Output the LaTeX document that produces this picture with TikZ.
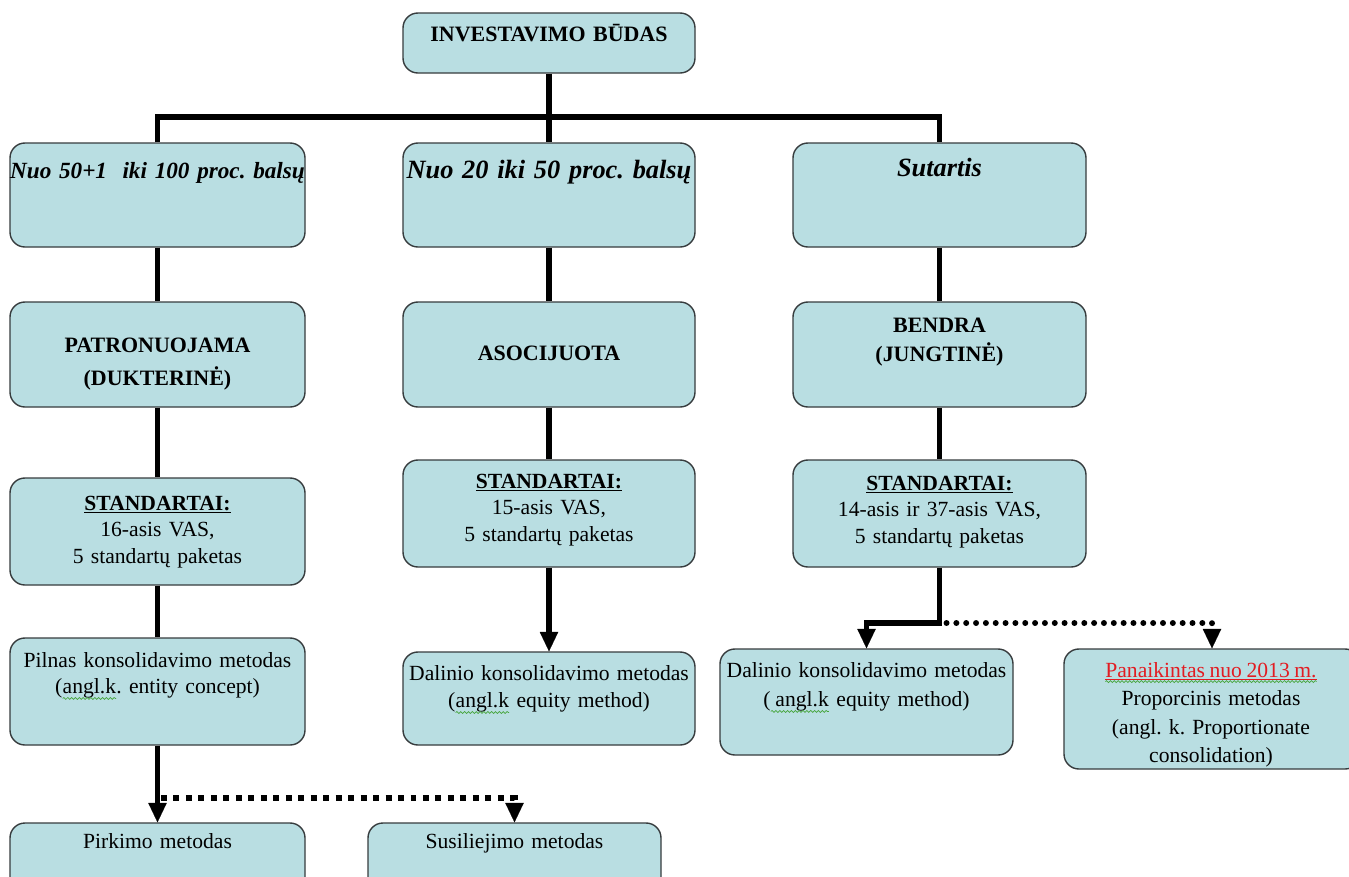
\documentclass[tikz,border=0pt]{standalone}
\usepackage{fontspec}
\setmainfont{Liberation Serif}[WordSpace=0.85]
\usetikzlibrary{arrows.meta,fit,decorations.pathmorphing}
\frenchspacing

\definecolor{boxfill}{RGB}{185,222,226}
\definecolor{boxedge}{RGB}{55,60,62}
\definecolor{spellgreen}{RGB}{70,165,60}
\definecolor{alertred}{RGB}{226,28,34}

\newcommand\regsize{\fontsize{12.3}{15.3}\selectfont}
\newcommand\boldsize{\fontsize{12.5}{15.3}\selectfont\bfseries}

% green wavy proofing mark under a word
\newcommand\spellmark[1]{\tikz[baseline=(sm.base)]{%
  \node[inner sep=0pt,outer sep=0pt,anchor=base,draw=none,fill=none,text width={},align=left] (sm) {#1};%
  \draw[spellgreen,line width=0.4pt,decorate,decoration={snake,amplitude=0.55pt,segment length=2.2pt}]
    ([yshift=-2.6pt]sm.base west) -- ([yshift=-2.6pt]sm.base east);}}

\tikzset{
  box/.style={draw=boxedge,line width=0.8pt,fill=boxfill,rounded corners=8.5pt,inner sep=0pt},
  txt/.style={anchor=base,inner sep=0pt,text width=7cm,align=center,font=\regsize},
  head/.style={txt,font=\fontsize{15}{18}\selectfont\bfseries\itshape},
  link/.style={draw=black,line width=3.4pt},
  tip/.style={-{Triangle[width=10.5pt,length=11pt,line width=0.1pt]}},
  squaredots/.style={draw=black,line width=3.8pt,dash pattern=on 3.4pt off 3.7pt},
  rounddots/.style={draw=black,line width=3.4pt,line cap=round,dash pattern=on 0pt off 5.6pt},
}

\begin{document}
\begin{tikzpicture}[x=0.02cm,y=-0.02cm]
\clip (0,0) rectangle (1349,876);
\fill[white] (0,0) rectangle (1349,876);

% boxes
\node[box,fit={(403,13) (695,73)}] (top) {};
\node[box,fit={(10,143) (305,247)}] (r1a) {};
\node[box,fit={(403,143) (695,247)}] (r1b) {};
\node[box,fit={(793,143) (1086,247)}] (r1c) {};
\node[box,fit={(10,302) (305,407)}] (r2a) {};
\node[box,fit={(403,302) (695,407)}] (r2b) {};
\node[box,fit={(793,302) (1086,407)}] (r2c) {};
\node[box,fit={(10,478) (305,585)}] (r3a) {};
\node[box,fit={(403,460) (695,567)}] (r3b) {};
\node[box,fit={(793,460) (1086,567)}] (r3c) {};
\node[box,fit={(10,638) (305,745)}] (r4a) {};
\node[box,fit={(403,652) (695,745)}] (r4b) {};
\node[box,fit={(720,649) (1013,755)}] (r4c) {};
\node[box,fit={(1064,649) (1360,769)}] (r4d) {};
\node[box,fit={(10,823) (305,910)}] (r5a) {};
\node[box,fit={(368,823) (661,910)}] (r5b) {};

% junction points
\coordinate (bar) at (549,117);
\coordinate (jr) at (939.5,623);
\coordinate (jl) at (157.5,798);

% connectors
\draw[link] (top.south) -- (r1b.north);
\draw[link] (r1a.north) |- (bar) -| (r1c.north);
\draw[link] (r1a.south) -- (r2a.north);
\draw[link] (r2a.south) -- (r3a.north);
\draw[link] (r3a.south) -- (r4a.north);
\draw[link] (r1b.south) -- (r2b.north);
\draw[link] (r2b.south) -- (r3b.north);
\draw[link,tip] (r3b.south) -- (r4b.north);
\draw[link] (r1c.south) -- (r2c.north);
\draw[link] (r2c.south) -- (r3c.north);
\draw[rounddots,tip] ([xshift=4pt]jr) -| (r4d.north);
\draw[link,tip] (r3c.south) -- (jr) -| (r4c.north);
\draw[squaredots,tip] ([xshift=2pt]jl) -| (r5b.north);
\draw[link,tip] (r4a.south) -- (r5a.north);

% texts
\node[txt,font=\boldsize] (ttop) at (549,41) {INVESTAVIMO BŪDAS};
\node[head,font=\fontsize{13.2}{16}\selectfont\bfseries\itshape] (t1a) at (157.5,178) {Nuo 50+1 \ iki 100 proc. balsų};
\node[head] (t1b) at (549,178) {Nuo 20 iki 50 proc. balsų};
\node[head] (t1c) at (939.5,176) {Sutartis};
\node[txt,font=\fontsize{12.5}{19.3}\selectfont\bfseries] (t2a) at (157.5,352) {PATRONUOJAMA\\(DUKTERINĖ)};
\node[txt,font=\boldsize] (t2b) at (549,360) {ASOCIJUOTA};
\node[txt,font=\fontsize{12.5}{17}\selectfont\bfseries] (t2c) at (939.5,332) {BENDRA\\(JUNGTINĖ)};
\node[txt] (t3a) at (157.5,510) {\textbf{\underline{STANDARTAI:}}\\16-asis VAS,\\5 standartų paketas};
\node[txt] (t3b) at (549,488) {\textbf{\underline{STANDARTAI:}}\\15-asis VAS,\\5 standartų paketas};
\node[txt] (t3c) at (939.5,490) {\textbf{\underline{STANDARTAI:}}\\14-asis ir 37-asis VAS,\\5 standartų paketas};
\node[txt] (t4a) at (157.5,667) {Pilnas konsolidavimo metodas\\(\spellmark{angl.k}. entity concept)};
\node[txt,font=\fontsize{12.3}{15.9}\selectfont] (t4b) at (549,680) {Dalinio konsolidavimo metodas\\(\spellmark{angl.k} equity method)};
\node[txt,font=\fontsize{12.3}{17}\selectfont] (t4c) at (866.5,677) {Dalinio konsolidavimo metodas\\(\spellmark{\ angl.k} equity method)};
\node[txt,font=\fontsize{12.3}{16.3}\selectfont] (t4d) at (1211,677) {\spellmark{\textcolor{alertred}{\underline{Panaikintas nuo 2013 m.}}}\\Proporcinis metodas\\(angl. k. Proportionate\\consolidation)};
\node[txt] (t5a) at (157.5,848) {Pirkimo metodas};
\node[txt] (t5b) at (514.5,848) {Susiliejimo metodas};
\end{tikzpicture}
\end{document}
